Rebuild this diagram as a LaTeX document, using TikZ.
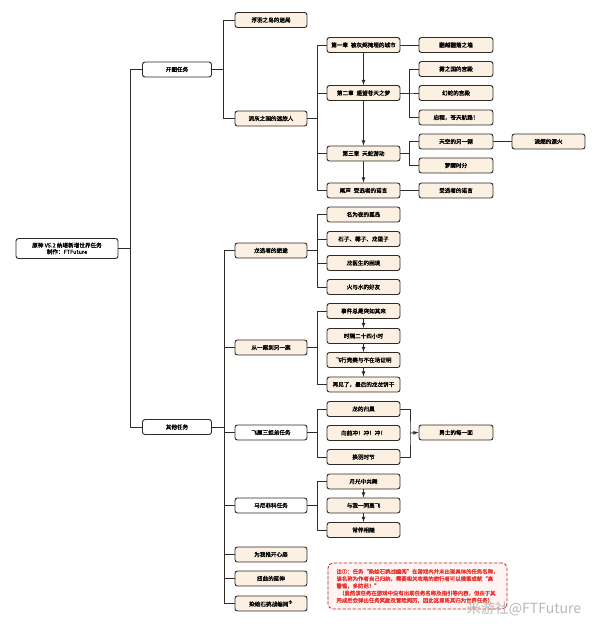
\documentclass[tikz,border=0pt]{standalone}
\usepackage{fontspec}
\setmainfont{Noto Sans CJK SC}[AutoFakeBold=1.6]
\definecolor{boxfill}{HTML}{FBF0E2}
\definecolor{boxline}{HTML}{2E2A26}
\definecolor{notered}{HTML}{E8322E}
\definecolor{notefill}{HTML}{FFF4F2}
\begin{document}
\begin{tikzpicture}[x=1pt,y=-1pt,line cap=round,line join=round,>=latex,
  box/.style={draw=boxline,line width=0.9pt,rounded corners=2.5pt,fill=boxfill,inner sep=0pt,
    minimum height=15pt,font=\fontsize{5.6}{6.5}\selectfont\bfseries},
  whitebox/.style={box,fill=white,minimum width=69pt},
  lvtwo/.style={box,minimum width=72pt},
  lvthree/.style={box,minimum width=73pt},
  lvfour/.style={box,minimum width=74pt},
  link/.style={draw=boxline,line width=0.8pt}]
  \useasboundingbox (0,0) rectangle (600,630);
  \node[box,fill=white,minimum width=102pt,minimum height=20pt,align=center] (root) at (67,248.5)
    {原神 V5.2 纳塔新增世界任务\\制作：FTFuture};
  \node[whitebox] (open) at (177,69.5) {开图任务};
  \node[whitebox] (other) at (177,427) {其他任务};
  \node[lvtwo] (fuyu) at (271,20) {浮羽之岛的迷局};
  \node[lvtwo] (liuhui) at (271,118.5) {流灰之国的迷旅人};
  \node[lvthree] (ch1) at (363.5,45) {第一章\enspace 被灰烬掩埋的城市};
  \node[lvthree] (ch2) at (363.5,93) {第二章\enspace 遥望苍天之梦};
  \node[lvthree] (ch3) at (363.5,153.5) {第三章\enspace 天蛇游动};
  \node[lvthree] (coda) at (363.5,190.5) {尾声\enspace 受选者的诺言};
  \node[lvfour] (fanyue) at (456,45) {翻越翻落之墙};
  \node[lvfour] (wudu) at (456,69) {雾之国的宫殿};
  \node[lvfour] (huanshe) at (456,93) {幻蛇的宫殿};
  \node[lvfour] (qicheng) at (456,117.5) {启程，苍天航路！};
  \node[lvfour] (tiankong) at (456,141.5) {天空的另一侧};
  \node[lvfour] (mengxing) at (456,165.5) {梦醒时分};
  \node[lvfour] (nuoyan) at (456,190.5) {受选者的诺言};
  \node[box,minimum width=73pt] (yuanhuo) at (548.5,141.5) {流燃的源火};
  \node[lvtwo] (longxuan) at (271,250.5) {龙选者的旅途};
  \node[lvtwo] (yian) at (271,347.5) {从一案到另一案};
  \node[lvtwo,fill=white] (feiwu) at (271,432.5) {飞屋三姐弟任务};
  \node[lvtwo,fill=white] (mani) at (271,505.5) {马尼菲科任务};
  \node[lvtwo] (xinfei) at (271,554.5) {为我推开心扉};
  \node[lvtwo] (niuqu) at (271,578.5) {扭曲的延伸};
  \node[lvtwo] (ranhui) at (271,603.5) {染绘石挑战编阅\textsuperscript{①}};
  \node[lvthree] (gudao) at (363.5,214.5) {名为夜的孤岛};
  \node[lvthree] (shizi) at (363.5,239) {石子、椰子、龙蛋子};
  \node[lvthree] (yisheng) at (363.5,263) {龙医生的困境};
  \node[lvthree] (haoyou) at (363.5,287) {火与水的好友};
  \node[lvthree] (shijian) at (363.5,311) {事件总是突如其来};
  \node[lvthree] (shige) at (363.5,336) {时隔二十四小时};
  \node[lvthree] (feixing) at (363.5,360) {飞行竞赛与不在场证明};
  \node[lvthree] (zaijian) at (363.5,384.5) {再见了，最后的龙龙饼干};
  \node[lvthree] (guichao) at (363.5,409) {龙的归巢};
  \node[lvthree] (chong) at (363.5,433) {向前冲！冲！冲！};
  \node[lvthree] (huanyu) at (363.5,457) {换羽时节};
  \node[lvfour] (yongshi) at (456,432.5) {勇士的每一面};
  \node[lvthree] (yueguang) at (363.5,481.5) {月光中共舞};
  \node[lvthree] (gaofei) at (363.5,505.5) {与我一同高飞};
  \node[lvthree] (xiangsui) at (363.5,530) {常伴相随};
  \coordinate (merge) at (410,433);
  \foreach \c in {open,other}
    \draw[link] (root.east) -- ++(12,0) |- (\c.west);
  \foreach \c in {fuyu,liuhui}
    \draw[link] (open.east) -- ++(11,0) |- (\c.west);
  \foreach \c in {ch1,ch2,ch3,coda}
    \draw[link] (liuhui.east) -- ++(10,0) |- (\c.west);
  \foreach \c in {wudu,huanshe,qicheng}
    \draw[link] (ch2.east) -- ++(9,0) |- (\c.west);
  \foreach \c in {tiankong,mengxing}
    \draw[link] (ch3.east) -- ++(9,0) |- (\c.west);
  \draw[link] (ch1) -- (fanyue);
  \draw[link] (coda) -- (nuoyan);
  \draw[link] (tiankong) -- (yuanhuo);
  \draw[link,->] (ch1) -- (ch2);
  \draw[link,->] (ch2) -- (ch3);
  \draw[link,->] (ch3) -- (coda);
  \foreach \c in {longxuan,yian,feiwu,mani,xinfei,niuqu,ranhui}
    \draw[link] (other.east) -- ++(12,0) |- (\c.west);
  \foreach \c in {gudao,shizi,yisheng,haoyou}
    \draw[link] (longxuan.east) -- ++(10,0) |- (\c.west);
  \foreach \c in {shijian,zaijian}
    \draw[link] (yian.east) -- ++(10,0) |- (\c.west);
  \draw[link,->] (shijian) -- (shige);
  \draw[link,->] (shige) -- (feixing);
  \draw[link,->] (feixing) -- (zaijian);
  \foreach \c in {guichao,huanyu}
    \draw[link] (feiwu.east) -- ++(10,0) |- (\c.west);
  \draw[link] (guichao.east) -| (merge) |- (huanyu.east);
  \draw[link,->] (merge) -- (yongshi.west);
  \foreach \c in {yueguang,xiangsui}
    \draw[link] (mani.east) -- ++(10,0) |- (\c.west);
  \draw[link,->] (yueguang) -- (gaofei);
  \draw[link,->] (gaofei) -- (xiangsui);
  \node[draw=notered!80!black,densely dashed,line width=0.8pt,rounded corners=5pt,fill=notefill,
    minimum width=179pt,minimum height=46pt,inner sep=0pt,text=notered,align=left,
    font=\fontsize{5.4}{7.2}\selectfont\bfseries] (note) at (417.5,586)
    {注①：任务“染绘石挑战编阅”在游戏内并未出现具体的任务名称，\\
     该名称为作者自己归纳，需要相关攻略的旅行者可以搜索成就“高\\
     警惕，多防范！”\\
     \hspace*{2.5pt}（虽然该任务在游戏中没有出现任务名称及指引等内容，但由于其\\
     完成后会弹出任务奖励及冒险阅历，因此这里将其归为世界任务）};
  \node[text=black!28,font=\fontsize{14}{14}\selectfont] (mark) at (524,609) {米游社@FTFuture};
\end{tikzpicture}
\end{document}
